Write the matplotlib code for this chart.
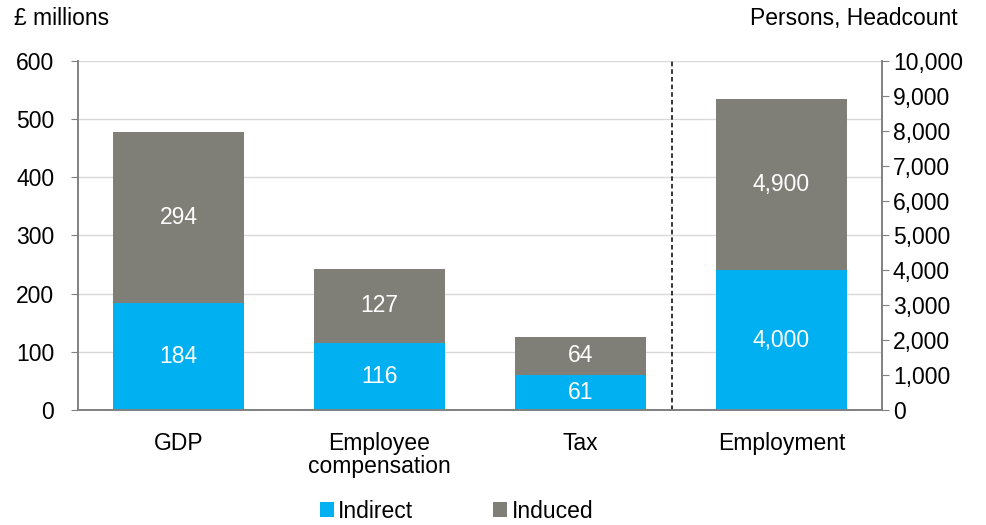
import numpy as np
import matplotlib.pyplot as plt
from matplotlib.ticker import FuncFormatter

plt.rcParams['font.family'] = ['Liberation Sans', 'DejaVu Sans']

categories = ['GDP', 'Employee\ncompensation', 'Tax', 'Employment']
indirect_gbp = [184, 116, 61]
induced_gbp = [294, 127, 64]
indirect_emp = [4000]
induced_emp = [4900]

c_ind = '#00B0F0'
c_inu = '#7F7F78'
grey = '#808080'
fs = 16.5

fig = plt.figure(figsize=(9.87, 5.25), dpi=100)
ax1 = fig.add_axes([0.079, 0.219, 0.8145, 0.665])
ax2 = ax1.twinx()

x = np.arange(len(categories))
w = 0.65
xl = x[:3]
ax1.bar(xl, indirect_gbp, w, color=c_ind, label='Indirect', zorder=2)
ax1.bar(xl, induced_gbp, w, bottom=indirect_gbp, color=c_inu, label='Induced', zorder=2)
for i in range(3):
    ax1.text(xl[i], indirect_gbp[i] / 2, str(indirect_gbp[i]), color='white',
             ha='center', va='center', fontsize=fs, zorder=3)
    ax1.text(xl[i], indirect_gbp[i] + induced_gbp[i] / 2, str(induced_gbp[i]), color='white',
             ha='center', va='center', fontsize=fs, zorder=3)

xr = x[3:]
ax2.bar(xr, indirect_emp, w, color=c_ind, zorder=2)
ax2.bar(xr, induced_emp, w, bottom=indirect_emp, color=c_inu, zorder=2)
ax2.text(xr[0], indirect_emp[0] / 2, f'{indirect_emp[0]:,}', color='white',
         ha='center', va='center', fontsize=fs)
ax2.text(xr[0], indirect_emp[0] + induced_emp[0] / 2, f'{induced_emp[0]:,}', color='white',
         ha='center', va='center', fontsize=fs)

ax1.set_xlim(-0.5, 3.5)
ax1.set_ylim(0, 600)
ax1.set_yticks(range(0, 601, 100))
ax2.set_ylim(0, 10000)
ax2.set_yticks(range(0, 10001, 1000))
ax2.yaxis.set_major_formatter(FuncFormatter(lambda v, p: f'{int(v):,}'))

ax1.grid(axis='y', color='#D9D9D9', linewidth=1, zorder=0)
ax1.set_axisbelow(True)
ax1.axvline(2.455, color='black', linestyle=(0, (3, 2)), linewidth=1.1, zorder=3)

ax1.set_xticks(x)
ax1.set_xticklabels(categories, fontsize=fs, linespacing=1.0)
ax1.tick_params(axis='x', length=0, pad=16)
ax1.tick_params(axis='y', labelsize=fs, color=grey, length=5, pad=12)
ax2.tick_params(axis='y', labelsize=fs, color=grey, length=5, pad=3)

for a in (ax1, ax2):
    a.spines['top'].set_visible(False)
    for s in ('left', 'right', 'bottom'):
        a.spines[s].set_color(grey)
        a.spines[s].set_linewidth(1.2)

fig.text(0.014, 0.965, '£ millions', fontsize=fs, va='center', ha='left')
fig.text(0.970, 0.965, 'Persons, Headcount', fontsize=fs, va='center', ha='right')

ax1.legend(loc='center', bbox_to_anchor=(0.471, -0.29), ncol=2, frameon=False,
           fontsize=fs, handlelength=0.6, handleheight=0.6, handletextpad=0.2,
           columnspacing=3.5)

plt.savefig('out.png', dpi=100)
